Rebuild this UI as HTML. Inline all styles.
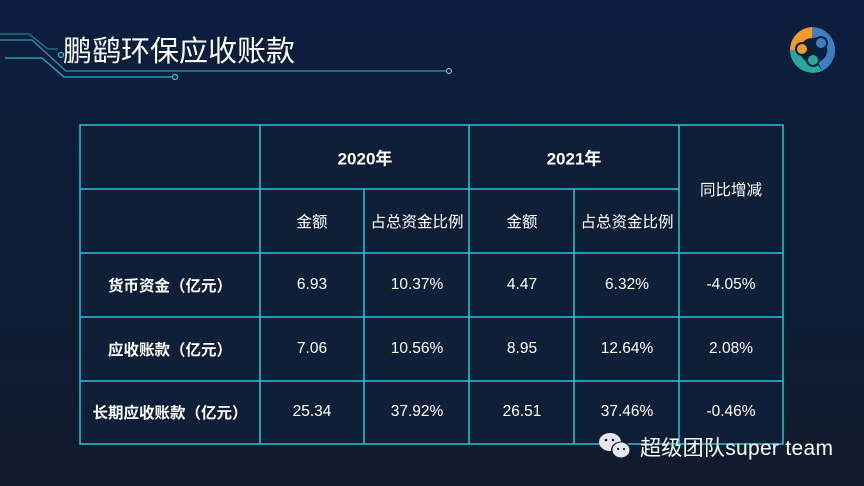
<!DOCTYPE html>
<html><head><meta charset="utf-8"><style>
body{margin:0;width:864px;height:486px;overflow:hidden;background:linear-gradient(180deg,#0b1e3e 0%,#0e1c35 60%,#101b2c 100%);font-family:"Liberation Sans","Noto Sans CJK SC",sans-serif;color:#fff;position:relative}
.t{position:absolute;transform:translate(-50%,-50%);white-space:nowrap;font-size:15.5px}
.b{font-weight:bold}
</style></head><body>
<svg width="864" height="486" style="position:absolute;left:0;top:0">
<g fill="none" stroke-width="1.2">
<polyline points="0,34 29,34 48,49 58,49" stroke="#1a7f9a"/>
<circle cx="61" cy="55" r="2.5" stroke="#2bc7d8"/>
<polyline points="0,40 32,40 66,71 446,71" stroke="#2a9bb0"/>
<circle cx="449" cy="71" r="2.5" stroke="#9ab"/>
<polyline points="5,58 42,58 64,77 172,77" stroke="#22b8cc"/>
<circle cx="175" cy="77" r="2.5" stroke="#2bc7d8"/>
</g>
<circle cx="812" cy="50" r="23" fill="#0b1e3e"/>
<path d="M812,27 A23,23 0 0,0 790,50 L800,50 A12,12 0 0,1 812,38Z" fill="#f39a2b"/>
<path d="M812,27 A23,23 0 0,1 835,50 A23,23 0 0,1 822,71 L818,62 A12,12 0 0,0 812,38Z" fill="#3b7fc4"/>
<path d="M790,50 A23,23 0 0,0 822,71 L816,62 A12,12 0 0,1 800,50Z" fill="#27a89c"/>
<circle cx="812" cy="50" r="11" fill="#0b1e3e"/>
<circle cx="802" cy="49" r="6" fill="#f39a2b" stroke="#0b1e3e" stroke-width="2"/>
<circle cx="821" cy="43" r="6" fill="#3b7fc4" stroke="#0b1e3e" stroke-width="2"/>
<circle cx="813" cy="60" r="6" fill="#27a89c" stroke="#0b1e3e" stroke-width="2"/>
<rect x="80" y="125" width="703" height="319" fill="#0f1f38"/>
<g stroke="#22c8d0" stroke-width="1.5">
<rect x="80" y="125" width="703" height="319" fill="none"/>
<line x1="80" y1="189" x2="679" y2="189"/>
<line x1="80" y1="253" x2="783" y2="253"/>
<line x1="80" y1="317" x2="783" y2="317"/>
<line x1="80" y1="381" x2="783" y2="381"/>
<line x1="260" y1="125" x2="260" y2="444"/>
<line x1="469" y1="125" x2="469" y2="444"/>
<line x1="679" y1="125" x2="679" y2="444"/>
<line x1="364" y1="189" x2="364" y2="444"/>
<line x1="574" y1="189" x2="574" y2="444"/>
</g>
</svg>
<div style="position:absolute;left:63px;top:28px;font-size:29px;color:#fff">鹏鹞环保应收账款</div>
<div class="t b" style="left:365px;top:157px;font-size:17px">2020年</div>
<div class="t b" style="left:574px;top:157px;font-size:17px">2021年</div>
<div class="t" style="left:731px;top:189px">同比增减</div>
<div class="t" style="left:312px;top:221px">金额</div>
<div class="t" style="left:417px;top:221px">占总资金比例</div>
<div class="t" style="left:522px;top:221px">金额</div>
<div class="t" style="left:627px;top:221px">占总资金比例</div>
<div class="t b" style="left:170px;top:285px">货币资金（亿元）</div>
<div class="t" style="left:312px;top:285px">6.93</div>
<div class="t" style="left:417px;top:285px">10.37%</div>
<div class="t" style="left:522px;top:285px">4.47</div>
<div class="t" style="left:627px;top:285px">6.32%</div>
<div class="t" style="left:731px;top:285px">-4.05%</div>
<div class="t b" style="left:170px;top:349px">应收账款（亿元）</div>
<div class="t" style="left:312px;top:349px">7.06</div>
<div class="t" style="left:417px;top:349px">10.56%</div>
<div class="t" style="left:522px;top:349px">8.95</div>
<div class="t" style="left:627px;top:349px">12.64%</div>
<div class="t" style="left:731px;top:349px">2.08%</div>
<div class="t b" style="left:170px;top:412px">长期应收账款（亿元）</div>
<div class="t" style="left:312px;top:412px">25.34</div>
<div class="t" style="left:417px;top:412px">37.92%</div>
<div class="t" style="left:522px;top:412px">26.51</div>
<div class="t" style="left:627px;top:412px">37.46%</div>
<div class="t" style="left:731px;top:412px">-0.46%</div>
<svg width="40" height="36" style="position:absolute;left:596px;top:430px">
<ellipse cx="14" cy="12" rx="11" ry="9" fill="#e8e8ec"/>
<ellipse cx="25" cy="20" rx="10" ry="8.5" fill="#0f1f38"/>
<ellipse cx="25" cy="20" rx="8.5" ry="7.5" fill="#e8e8ec"/>
<circle cx="10" cy="10" r="1.3" fill="#0f1f38"/><circle cx="17" cy="10" r="1.3" fill="#0f1f38"/>
<circle cx="22" cy="19" r="1.1" fill="#0f1f38"/><circle cx="28" cy="19" r="1.1" fill="#0f1f38"/>
</svg>
<div style="position:absolute;left:640px;top:432px;font-size:21px;color:#fff;letter-spacing:0.3px">超级团队super team</div>
</body></html>
